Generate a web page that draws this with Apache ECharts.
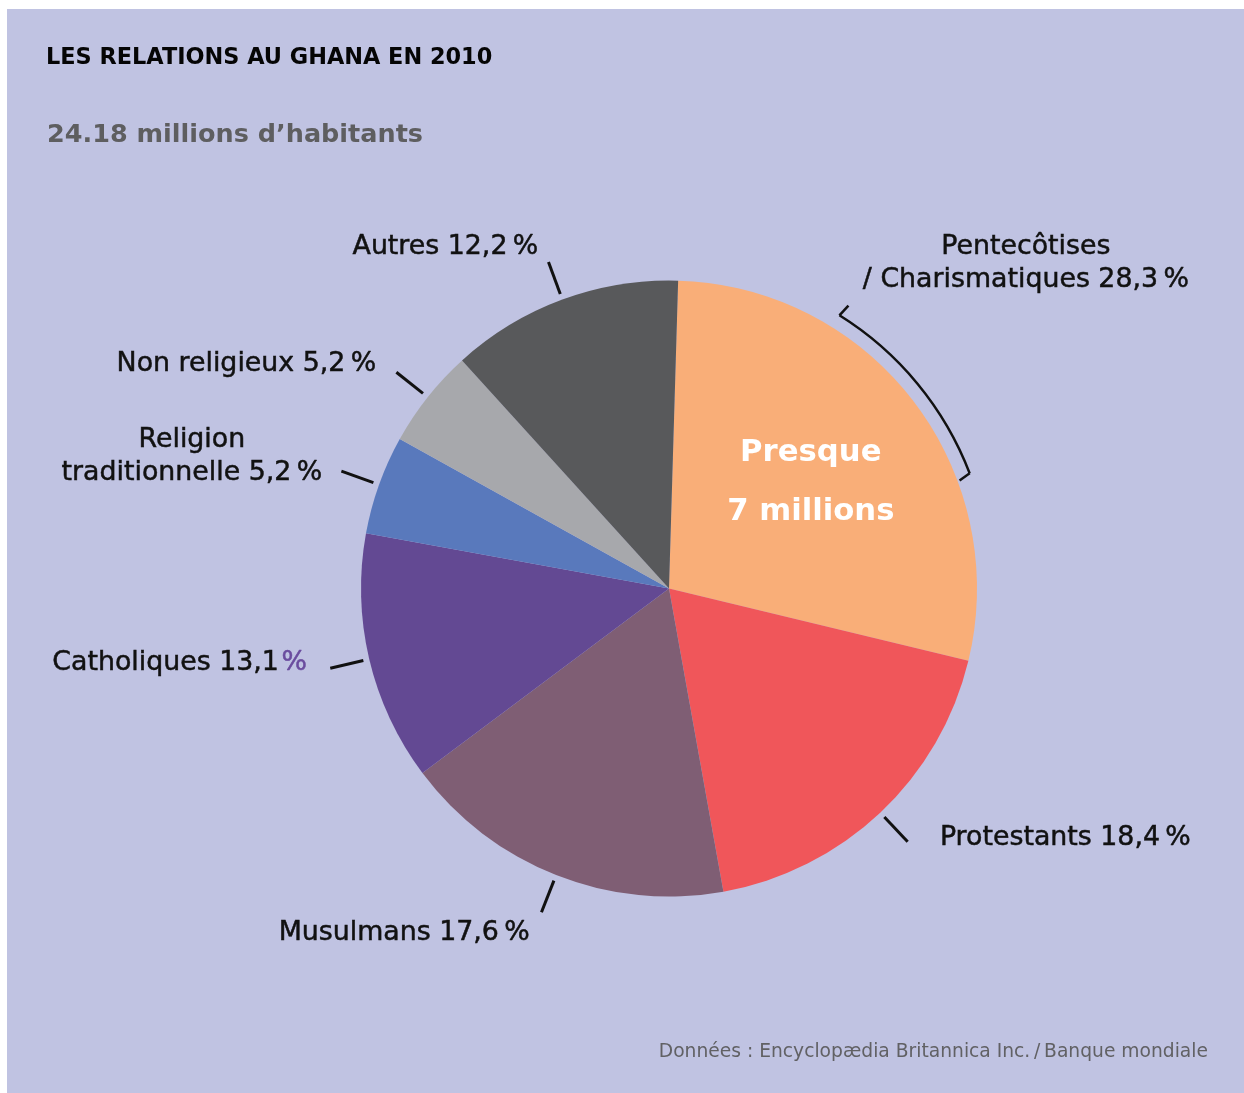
<!DOCTYPE html>
<html lang="fr">
<head>
<meta charset="utf-8">
<title>Les relations au Ghana en 2010</title>
<script src="https://cdn.jsdelivr.net/npm/echarts@6/dist/echarts.min.js"></script>
<style>
  html, body { margin: 0; padding: 0; background: #ffffff; }
  #chart { position: absolute; left: 7px; top: 9px; width: 1237px; height: 1084px; background: #C0C3E2; }
</style>
</head>
<body>
<div id="chart"></div>
<script>
// ---- Texts and data -------------------------------------------------------
const titleText = 'LES RELATIONS AU GHANA EN 2010';
const subtitleText = '24.18 millions d\u2019habitants';
const sourceText = 'Données : Encyclopædia Britannica Inc.\u2009/\u2009Banque mondiale';
const highlightText = 'Presque\n7 millions';

const categories = [
  'Pentecôtises\n/ Charismatiques',
  'Protestants',
  'Musulmans',
  'Catholiques',
  'Religion\ntraditionnelle',
  'Non religieux',
  'Autres'
];
const shares = [28.3, 18.4, 17.6, 13.1, 5.2, 5.2, 12.2];

// ---- Styling ----------------------------------------------------------------
const sliceColors = ['#F9AE78', '#F0565A', '#7F5E74', '#634993', '#5979BC', '#A7A8AC', '#58595B'];
const FONT = '"DejaVu Sans", Verdana, sans-serif';
const INK = '#111111';
const CENTER = [662, 579.5];
const RADIUS = 308;
const START_ANGLE = 88.3;
// horizontal gap between the end of a leader line and the near edge of its label,
// and vertical shift of the label block
const labelGap = [-83, 32, 11.5, 23, 19, 20, 10];
const labelShift = [-114, -4, 21, -5, -15, -8, -15];
// part of the first slice covered by the bracket
const bracketSpan = [0.297, 0.661];

function shareLabel(p) {
  const pct = p.value.toFixed(1).replace('.', ',');
  if (p.dataIndex === 3) return p.name + ' ' + pct + '{pc|\u200A%}';
  return p.name + ' ' + pct + '\u2009%';
}

const chart = echarts.init(document.getElementById('chart'), null, { renderer: 'canvas' });

const option = {
  animation: false,
  backgroundColor: 'transparent',
  title: [
    {
      text: titleText, left: 39, top: 37, padding: 0,
      textStyle: { fontFamily: FONT, fontSize: 22.4, fontWeight: 'bold', color: '#050505', lineHeight: 24 }
    },
    {
      text: subtitleText, left: 40, top: 110, padding: 0,
      textStyle: { fontFamily: FONT, fontSize: 25.5, fontWeight: 'bold', color: '#5E5E60', lineHeight: 32 }
    },
    {
      text: sourceText, right: 36, top: 1033, padding: 0,
      textStyle: { fontFamily: FONT, fontSize: 18.7, fontWeight: 'normal', color: '#616164', lineHeight: 20 }
    }
  ],
  series: [
    {
      // visible slices
      type: 'pie',
      center: CENTER,
      radius: RADIUS,
      startAngle: START_ANGLE,
      clockwise: true,
      silent: true,
      avoidLabelOverlap: false,
      emphasis: { disabled: true },
      itemStyle: { borderWidth: 0 },
      label: { show: false },
      labelLine: { show: false },
      data: categories.map((name, i) => ({
        name: name,
        value: shares[i],
        itemStyle: { color: sliceColors[i] },
        label: i === 0 ? {
          show: true,
          position: 'inside',
          formatter: highlightText,
          color: '#ffffff',
          fontFamily: FONT,
          fontSize: 30.7,
          fontWeight: 'bold',
          lineHeight: 59,
          offset: [17, -11]
        } : { show: false }
      }))
    },
    {
      // labels with short radial leader lines, detached from the slices
      type: 'pie',
      center: CENTER,
      radius: RADIUS + 6,
      startAngle: START_ANGLE,
      clockwise: true,
      silent: true,
      z: 3,
      avoidLabelOverlap: false,
      emphasis: { disabled: true },
      itemStyle: { color: 'rgba(0,0,0,0)', borderWidth: 0 },
      label: {
        show: true,
        position: 'outside',
        formatter: shareLabel,
        color: INK,
        fontFamily: FONT,
        fontSize: 26.8,
        fontWeight: 'normal',
        lineHeight: 33,
        textBorderColor: INK,
        textBorderWidth: 0.5,
        rich: {
          pc: {
            color: '#6A4C9E', fontFamily: FONT, fontSize: 26.8, fontWeight: 'normal', lineHeight: 33,
            textBorderColor: '#6A4C9E', textBorderWidth: 0.5
          }
        }
      },
      labelLine: {
        show: true,
        length: 34,
        length2: 1,
        lineStyle: { color: INK, width: 3 }
      },
      labelLayout: function (p) {
        const pts = p.labelLinePoints;
        if (!pts) return {};
        const p0 = pts[0], p1 = pts[1];
        const side = p1[0] < CENTER[0] ? -1 : 1;
        const w = p.labelRect.width;
        const i = p.dataIndex;
        return {
          x: p1[0] + side * (labelGap[i] + w / 2),
          y: p1[1] + labelShift[i],
          align: 'center',
          verticalAlign: 'middle',
          labelLinePoints: [p0, p1]
        };
      },
      data: categories.map((name, i) => ({
        name: name,
        value: shares[i],
        labelLine: i === 0 ? { lineStyle: { opacity: 0 } } : undefined
      }))
    }
  ]
};

chart.setOption(option);

// Bracket along the outside of the first slice
function drawBracket() {
  let layout = null;
  try {
    layout = chart.getModel().getSeriesByIndex(0).getData().getItemLayout(0);
  } catch (e) { layout = null; }
  if (!layout) {
    const total = shares.reduce((a, b) => a + b, 0);
    const s = -START_ANGLE * Math.PI / 180;
    layout = { cx: CENTER[0], cy: CENTER[1], r: RADIUS, startAngle: s, endAngle: s + shares[0] / total * Math.PI * 2 };
  }
  const cx = layout.cx, cy = layout.cy, r = layout.r;
  const sweep = layout.endAngle - layout.startAngle;
  const a1 = layout.startAngle + sweep * bracketSpan[0];
  const a2 = layout.startAngle + sweep * bracketSpan[1];
  const rb = r + 14;
  const pt = (a, rr) => [cx + rr * Math.cos(a), cy + rr * Math.sin(a)];
  const out = a => [Math.cos(a), Math.sin(a)];
  const fwd = a => [-Math.sin(a), Math.cos(a)];
  const P1 = pt(a1, rb), P2 = pt(a2, rb);
  const o1 = out(a1), f1 = fwd(a1), o2 = out(a2), f2 = fwd(a2);
  const T1 = [P1[0] + 13 * o1[0] + 2.5 * f1[0], P1[1] + 13 * o1[1] + 2.5 * f1[1]];
  const T2 = [P2[0] - 12 * o2[0] + 3 * f2[0], P2[1] - 12 * o2[1] + 3 * f2[1]];
  const stroke = { stroke: INK, lineWidth: 2.5, fill: null };
  chart.setOption({
    graphic: [
      { type: 'arc', silent: true, z: 10, shape: { cx: cx, cy: cy, r: rb, startAngle: a1, endAngle: a2, clockwise: true }, style: stroke },
      { type: 'polyline', silent: true, z: 10, shape: { points: [T1, P1] }, style: stroke },
      { type: 'polyline', silent: true, z: 10, shape: { points: [P2, T2] }, style: stroke }
    ]
  });
}
drawBracket();
</script>
</body>
</html>
